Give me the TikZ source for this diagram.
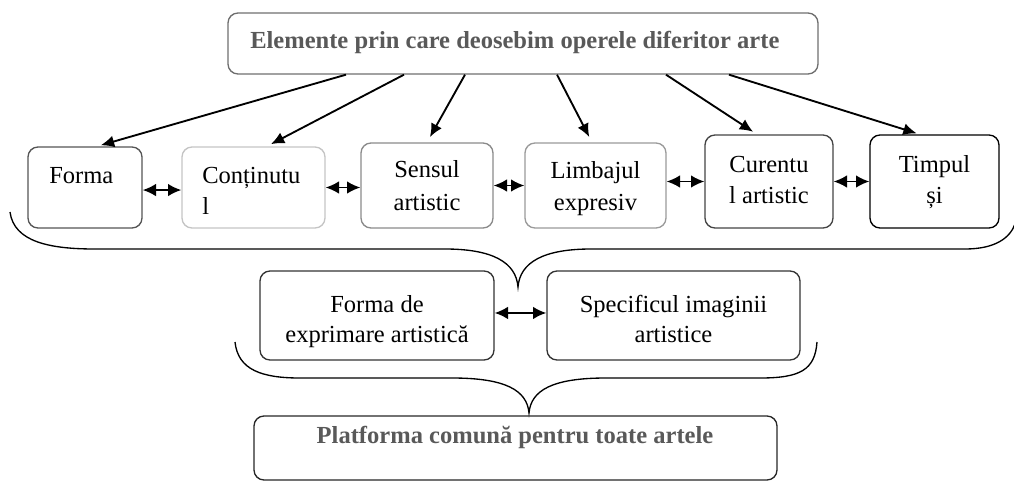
\documentclass[tikz,border=0pt]{standalone}
\usepackage{fontspec}
\setmainfont{Liberation Serif}
\usetikzlibrary{arrows.meta,fit}
\definecolor{titlegray}{HTML}{595959}
\definecolor{bA}{HTML}{6E6E6E}
\definecolor{bForma}{HTML}{555555}
\definecolor{bCont}{HTML}{C4C4C4}
\definecolor{bSens}{HTML}{8A8A8A}
\definecolor{bLimb}{HTML}{9A9A9A}
\definecolor{bCur}{HTML}{444444}
\definecolor{bMid}{HTML}{333333}
\tikzset{
  box/.style={draw, rounded corners=7.5pt, line width=1pt, inner sep=0pt},
  txt/.style={inner sep=0pt, anchor=base, font=\fontsize{18.4}{24}\selectfont},
  ttl/.style={txt, font=\fontsize{18.4}{24}\selectfont\bfseries, text=titlegray},
  arr/.style={line width=1.4pt, -{Latex[length=10pt,width=9pt]}},
  darr/.style={line width=1.4pt, {Latex[length=10pt,width=9.5pt]}-{Latex[length=10pt,width=9.5pt]}},
  brace/.style={line width=1pt}
}
\begin{document}
\begin{tikzpicture}[x=0.75pt,y=-0.75pt]
\useasboundingbox (0,0) rectangle (1014,482);
% top box
\node[box, draw=bA, fit={(228,13) (818,74)}] (top) {};
\node[ttl, anchor=base west] (topT) at (250,48) {Elemente prin care deosebim operele diferitor arte};
% row boxes
\node[box, draw=bForma, fit={(28,147) (142,228)}] (forma) {};
\node[box, draw=bCont, fit={(182,147) (325,228)}] (cont) {};
\node[box, draw=bSens, fit={(361,143) (493,228)}] (sens) {};
\node[box, draw=bLimb, fit={(525,143) (666,228)}] (limb) {};
\node[box, draw=bCur, fit={(705,135) (833,228)}] (cur) {};
\node[box, draw=black, fit={(870,135) (999,228)}] (timp) {};
\node[txt, anchor=base west] (formaT) at (49,183) {Forma};
\node[txt, anchor=base west] (contT1) at (202,183) {Conținutu};
\node[txt, anchor=base west] (contT2) at (202,214) {l};
\node[txt] (sensT1) at (427,177) {Sensul};
\node[txt] (sensT2) at (427,210) {artistic};
\node[txt] (limbT1) at (595.5,178) {Limbajul};
\node[txt] (limbT2) at (595.5,210) {expresiv};
\node[txt] (curT1) at (769,172) {Curentu};
\node[txt] (curT2) at (769,203) {l artistic};
\node[txt] (timpT1) at (934.5,172) {Timpul};
\node[txt] (timpT2) at (934.5,203) {și};
% arrows from top
\draw[arr, shorten >=3pt] ([xshift=-132.75pt]top.south) -- ([xshift=9pt]forma.north);
\draw[arr, shorten >=3.5pt] ([xshift=-89.25pt]top.south) -- ([xshift=10pt]cont.north);
\draw[arr, shorten >=4.5pt] ([xshift=-43.5pt]top.south) -- (sens.north);
\draw[arr, shorten >=4.5pt] ([xshift=25.5pt]top.south) -- ([xshift=-2.6pt]limb.north);
\draw[arr, shorten >=3.5pt] ([xshift=107.25pt]top.south) -- ([xshift=-9pt]cur.north);
\draw[arr, shorten >=2.5pt] ([xshift=154.5pt]top.south) -- ([xshift=-11pt]timp.north);
% double arrows in row
\draw[darr] ([yshift=-1.9pt]forma.east) -- ([yshift=-1.9pt]cont.west);
\draw[darr] (cont.east) -- (cont.east -| sens.west);
\draw[darr] (sens.east) -- (limb.west);
\draw[darr] (limb.east |- cur.west) -- (cur.west);
\draw[darr] (cur.east) -- (timp.west);
% brace 1
\draw[brace] (10,212) .. controls (14,242) and (50,249) .. (95,249) -- (445,249)
  .. controls (492,249) and (516,262) .. (518,287)
  .. controls (520,262) and (544,249) .. (591,249) -- (965,249)
  .. controls (995,249) and (1010,238) .. (1015,224);
% middle boxes
\node[box, draw=bMid, fit={(260,271) (494,360)}] (fde) {};
\node[box, draw=bMid, fit={(547,271) (800,360)}] (spec) {};
\node[txt] (fdeT1) at (377,312) {Forma de};
\node[txt] (fdeT2) at (377,342) {exprimare artistică};
\node[txt] (specT1) at (673.5,312) {Specificul imaginii};
\node[txt] (specT2) at (673.5,342) {artistice};
\draw[darr] ([yshift=1.9pt]fde.east) -- ([yshift=1.9pt]spec.west);
% brace 2
\draw[brace] (235,342) .. controls (238,370) and (262,378) .. (300,378) -- (452,378)
  .. controls (505,378) and (527,390) .. (529,413)
  .. controls (531,390) and (553,378) .. (606,378) -- (760,378)
  .. controls (800,378) and (815,370) .. (817,342);
% bottom box
\node[box, draw=black!85, fit={(254,416) (777,480)}] (plat) {};
\node[ttl] (platT) at (515,443) {Platforma comună pentru toate artele};
\end{tikzpicture}
\end{document}
